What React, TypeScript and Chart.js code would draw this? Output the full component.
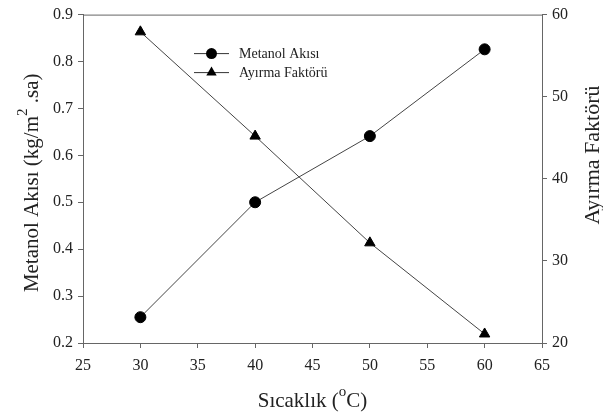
import React, { useEffect, useRef } from "react";
import { Chart, registerables } from "chart.js";

Chart.register(...registerables);

const temperatures = [30, 40, 50, 60];
const metanolFlux = [0.255, 0.5, 0.641, 0.826];
const separationFactor = [57.9, 45.2, 32.2, 21.1];
const seriesLabels = ["Metanol Akısı", "Ayırma Faktörü"];

const FONT = "'Liberation Serif', 'Times New Roman', serif";
const TEXT = "#222";
const AXIS = "#666";

function drawRich(ctx: CanvasRenderingContext2D, parts: { t: string; sup?: boolean }[], size: number, cx: number, cy: number, rot: number) {
  ctx.save();
  ctx.translate(cx, cy);
  ctx.rotate(rot);
  const supSize = Math.round(size * 0.72);
  let total = 0;
  const widths = parts.map((p) => {
    ctx.font = `${p.sup ? supSize : size}px ${FONT}`;
    const w = ctx.measureText(p.t).width;
    total += w;
    return w;
  });
  let x = -total / 2;
  ctx.fillStyle = TEXT;
  ctx.textBaseline = "alphabetic";
  ctx.textAlign = "left";
  parts.forEach((p, i) => {
    ctx.font = `${p.sup ? supSize : size}px ${FONT}`;
    ctx.fillText(p.t, x, p.sup ? size * 0.35 - size * 0.55 : size * 0.35);
    x += widths[i];
  });
  ctx.restore();
}

function marker(ctx: CanvasRenderingContext2D, style: string, r: number, x: number, y: number) {
  ctx.beginPath();
  if (style === "circle") {
    ctx.arc(x, y, r, 0, Math.PI * 2);
  } else {
    const half = r * Math.sqrt(3) / 2;
    ctx.moveTo(x, y - r);
    ctx.lineTo(x + half, y + r / 2);
    ctx.lineTo(x - half, y + r / 2);
    ctx.closePath();
  }
  ctx.fillStyle = "#000";
  ctx.fill();
}

const decorPlugin = {
  id: "decor",
  afterDraw(chart: any) {
    const { ctx, chartArea } = chart;
    const { left, right, top, bottom } = chartArea;
    ctx.save();
    ctx.strokeStyle = AXIS;
    ctx.lineWidth = 1;
    ctx.beginPath();
    ctx.moveTo(left, top + 0.5);
    ctx.lineTo(right, top + 0.5);
    ctx.stroke();
    ctx.restore();

    drawRich(ctx, [{ t: "Metanol Akısı (kg/m" }, { t: "2", sup: true }, { t: " .sa)" }], 21, 31, (top + bottom) / 2 + 4, -Math.PI / 2);
    drawRich(ctx, [{ t: "Ayırma Faktörü" }], 22, 591, 155, -Math.PI / 2);
    drawRich(ctx, [{ t: "Sıcaklık (" }, { t: "o", sup: true }, { t: "C)" }], 21, (left + right) / 2, 400, 0);

    const rows = [
      { y: top + 39, style: "circle" },
      { y: top + 58, style: "triangle" },
    ];
    rows.forEach((r, i) => {
      const ds = chart.data.datasets[i];
      const lx0 = left + 111;
      const lx1 = left + 146;
      ctx.save();
      ctx.strokeStyle = "#333";
      ctx.lineWidth = 1;
      ctx.beginPath();
      ctx.moveTo(lx0, r.y);
      ctx.lineTo(lx1, r.y);
      ctx.stroke();
      marker(ctx, r.style, ds.pointRadius, (lx0 + lx1) / 2, r.y);
      ctx.font = `14px ${FONT}`;
      ctx.fillStyle = TEXT;
      ctx.textBaseline = "middle";
      ctx.textAlign = "left";
      ctx.fillText(ds.label, left + 156, r.y + 1);
      ctx.restore();
    });
  },
};

export default function App() {
  const ref = useRef<HTMLCanvasElement>(null);
  useEffect(() => {
    document.body.style.margin = "0";
    const canvas = ref.current!;
    const tickFont = { family: FONT, size: 16 };
    const chart = new Chart(canvas, {
      type: "line",
      data: {
        datasets: [
          {
            label: seriesLabels[0],
            data: temperatures.map((t, i) => ({ x: t, y: metanolFlux[i] })),
            yAxisID: "y",
            borderColor: "#444",
            borderWidth: 1,
            pointBackgroundColor: "#000",
            pointBorderColor: "#000",
            pointRadius: 5.5,
            pointStyle: "circle",
            fill: false,
            tension: 0,
          },
          {
            label: seriesLabels[1],
            data: temperatures.map((t, i) => ({ x: t, y: separationFactor[i] })),
            yAxisID: "y1",
            borderColor: "#444",
            borderWidth: 1,
            pointBackgroundColor: "#000",
            pointBorderColor: "#000",
            pointRadius: 6,
            pointStyle: "triangle",
            fill: false,
            tension: 0,
          },
        ],
      },
      options: {
        animation: false,
        responsive: false,
        layout: { padding: { top: 14, left: 0, right: 0, bottom: 0 } },
        plugins: { legend: { display: false }, tooltip: { enabled: false } },
        scales: {
          x: {
            type: "linear",
            min: 25,
            max: 65,
            ticks: { stepSize: 5, font: tickFont, color: TEXT, padding: 8, maxRotation: 0 },
            grid: { drawOnChartArea: false, tickLength: 5, color: AXIS },
            border: { color: AXIS },
            afterFit: (s: any) => { s.height = 69; },
          },
          y: {
            position: "left",
            min: 0.2,
            max: 0.9,
            ticks: { stepSize: 0.1, font: tickFont, color: TEXT, padding: 5, callback: (v: any) => Number(v).toFixed(1) },
            grid: { drawOnChartArea: false, tickLength: 5, color: AXIS },
            border: { color: AXIS },
            afterFit: (s: any) => { s.width = 83; },
          },
          y1: {
            position: "right",
            min: 20,
            max: 60,
            ticks: { stepSize: 10, font: tickFont, color: TEXT, padding: 5 },
            grid: { drawOnChartArea: false, tickLength: 5, color: AXIS },
            border: { color: AXIS },
            afterFit: (s: any) => { s.width = 61; },
          },
        },
      } as any,
      plugins: [decorPlugin],
    });
    return () => chart.destroy();
  }, []);
  return <canvas ref={ref} width={603} height={412} style={{ display: "block" }} />;
}
